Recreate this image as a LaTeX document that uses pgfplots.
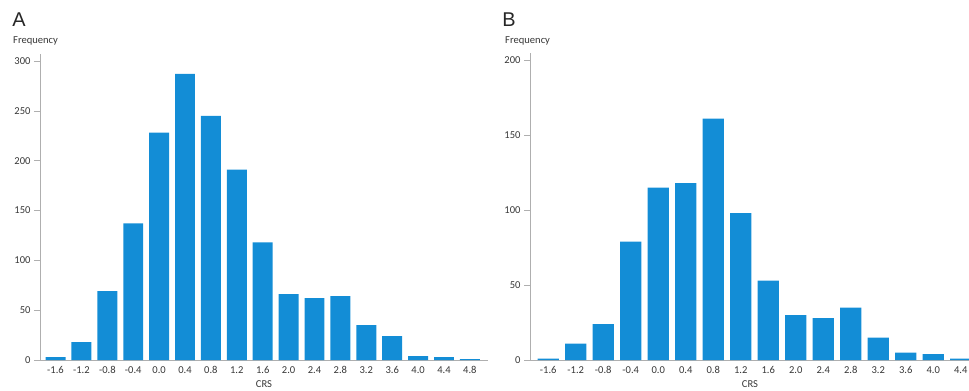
\documentclass[border=0pt]{standalone}
\usepackage{fontspec}
\setmainfont{Carlito}
\newfontfamily\letterfont{Liberation Sans}
\usepackage{pgfplots}
\pgfplotsset{compat=1.18}
\definecolor{barblue}{RGB}{19,141,214}
\definecolor{axgray}{RGB}{175,175,175}
\definecolor{txtgray}{RGB}{55,55,55}

\pgfplotstableread{
idx freq
0 3
1 18
2 69
3 137
4 228
5 287
6 245
7 191
8 118
9 66
10 62
11 64
12 35
13 24
14 4
15 3
16 1
}\dataA

\pgfplotstableread{
idx freq
0 1
1 11
2 24
3 79
4 115
5 118
6 161
7 98
8 53
9 30
10 28
11 35
12 15
13 5
14 4
15 1
}\dataB

\pgfplotsset{
  histo/.style={
    scale only axis,
    axis x line=bottom, axis y line=left,
    axis line style={-, draw=axgray, line width=0.8bp},
    enlargelimits=false,
    ymin=0,
    xtick=data,
    tick align=outside,
    major tick length=6bp,
    x tick style={draw=none},
    y tick style={draw=axgray, line width=0.6bp},
    tick label style={font=\fontsize{10.6}{12}\selectfont, text=txtgray},
    xticklabel style={yshift=3bp},
    /pgf/number format/assume math mode=true,
    ybar,
    clip=true,
  }
}

\begin{document}
\begin{tikzpicture}[x=1bp,y=1bp]
\useasboundingbox (0,0) rectangle (969,390);

\begin{axis}[histo,
  at={(40bp,30bp)}, anchor=south west,
  width=448bp, height=306bp,
  xmin=-0.6, xmax=16.7, ymax=307,
  ytick={0,50,100,150,200,250,300},
  bar width=0.77,
  xticklabels={-1.6,-1.2,-0.8,-0.4,0.0,0.4,0.8,1.2,1.6,2.0,2.4,2.8,3.2,3.6,4.0,4.4,4.8},
]
\addplot[fill=barblue, draw=none] table[x=idx, y=freq] {\dataA};
\end{axis}

\begin{axis}[histo,
  at={(530bp,30bp)}, anchor=south west,
  width=439bp, height=307bp,
  xmin=-0.665, xmax=15.3, ymax=204.7,
  ytick={0,50,100,150,200},
  bar width=0.775,
  xticklabels={-1.6,-1.2,-0.8,-0.4,0.0,0.4,0.8,1.2,1.6,2.0,2.4,2.8,3.2,3.6,4.0,4.4},
]
\addplot[fill=barblue, draw=none] table[x=idx, y=freq] {\dataB};
\end{axis}

\node[font=\letterfont\fontsize{20}{20}\selectfont, text=black!85] at (19,370) {A};
\node[font=\letterfont\fontsize{20}{20}\selectfont, text=black!85] at (509,370) {B};
\node[anchor=west, inner sep=0pt, font=\fontsize{10.6}{12}\selectfont, text=txtgray] at (13,349) {Frequency};
\node[anchor=west, inner sep=0pt, font=\fontsize{10.6}{12}\selectfont, text=txtgray] at (505,349) {Frequency};
\node[font=\fontsize{10.6}{12}\selectfont, text=txtgray] at (264,6) {CRS};
\node[font=\fontsize{10.6}{12}\selectfont, text=txtgray] at (750,6) {CRS};
\end{tikzpicture}
\end{document}
